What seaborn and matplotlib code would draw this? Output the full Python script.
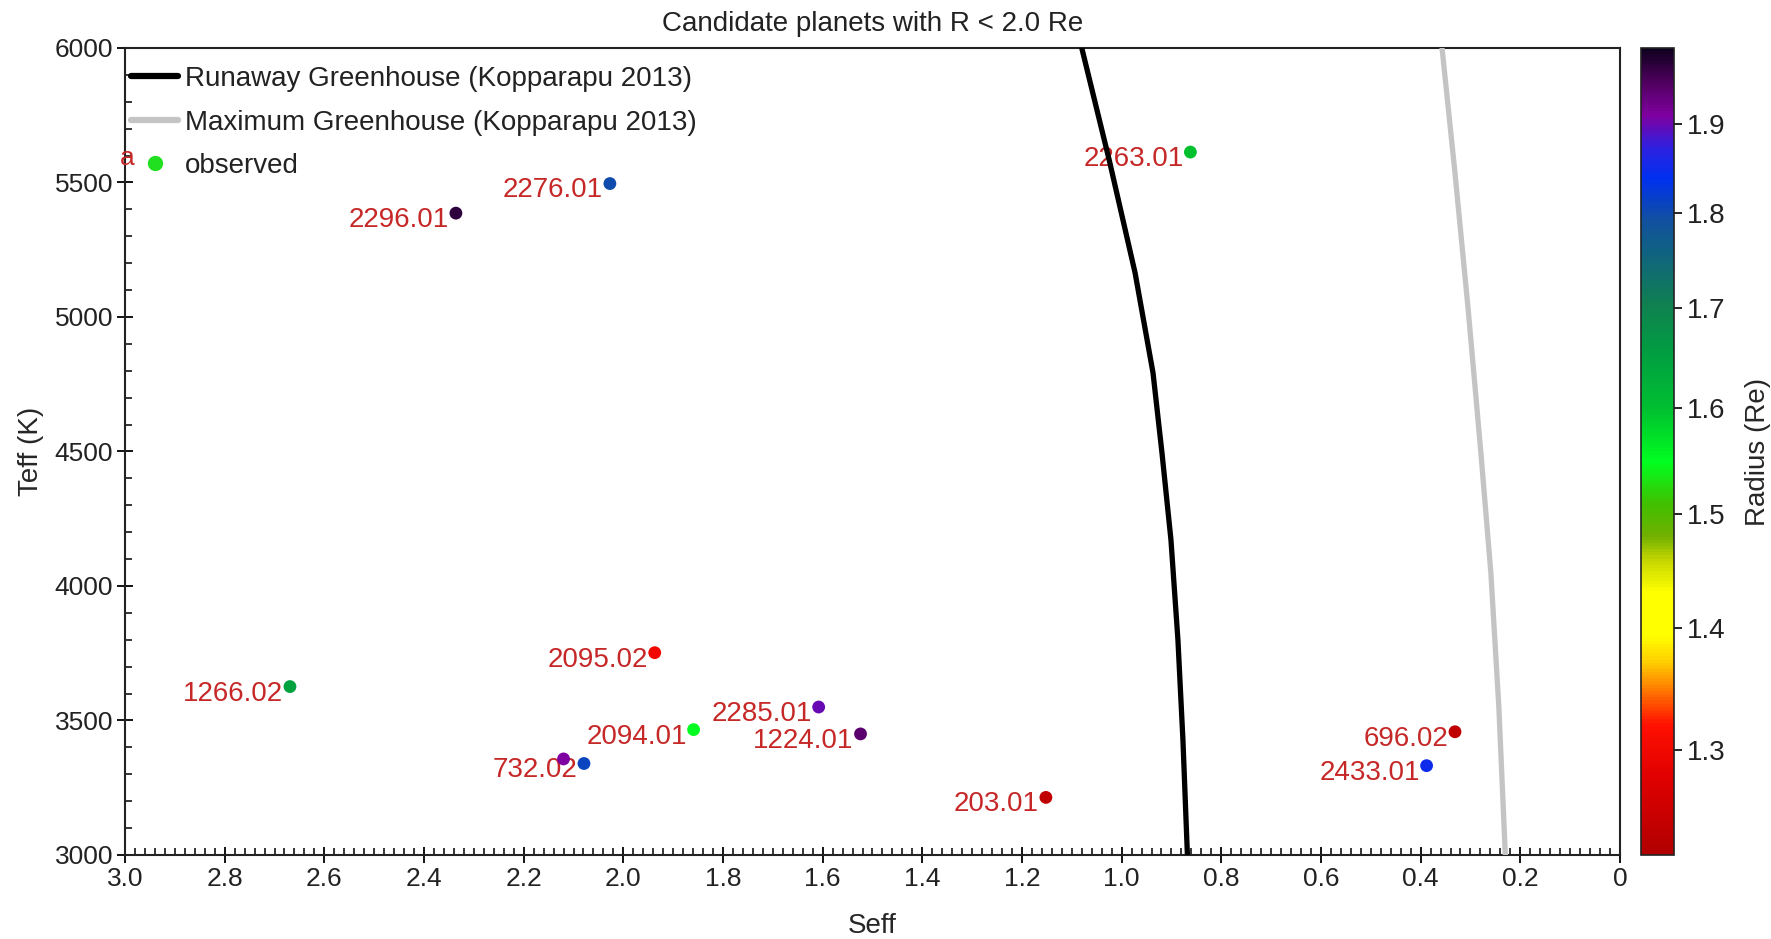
import numpy as np
import pandas as pd
import matplotlib
matplotlib.use("Agg")
import matplotlib.pyplot as plt
from matplotlib.colors import LinearSegmentedColormap, LogNorm
from matplotlib.cm import ScalarMappable
from matplotlib.lines import Line2D
from matplotlib.ticker import MultipleLocator, FixedLocator, FixedFormatter, NullLocator
import seaborn as sns

# Candidate planets (R < 2 Re): KOI name, stellar flux, stellar temperature, radius
koi_names = ["2296.01", "2276.01", "2263.01", "2095.02", "1266.02", "2285.01", "2094.01",
             "1224.01", "", "732.02", "203.01", "696.02", "2433.01"]
seff = [2.336, 2.027, 0.862, 1.937, 2.669, 1.608, 1.859, 1.524, 2.120, 2.079, 1.152, 0.331, 0.388]
teff = [5386, 5496, 5613, 3752, 3626, 3550, 3466, 3450, 3357, 3340, 3214, 3458, 3332]
radius = [1.97, 1.80, 1.60, 1.30, 1.65, 1.90, 1.55, 1.94, 1.91, 1.81, 1.24, 1.24, 1.85]

# Habitable-zone limits (Kopparapu 2013)
rg_teff = [6000, 5584, 5164, 4792, 4494, 4171, 3799, 3428, 3000]
rg_seff = [1.080, 1.025, 0.973, 0.937, 0.919, 0.901, 0.887, 0.877, 0.868]
mg_teff = [6000, 5535, 5037, 4494, 4048, 3550, 3000]
mg_seff = [0.357, 0.331, 0.305, 0.279, 0.259, 0.243, 0.230]

cbar_ticks = [1.3, 1.4, 1.5, 1.6, 1.7, 1.8, 1.9]

sns.set_theme(style="white")
plt.rcParams["font.family"] = ["Liberation Sans", "DejaVu Sans"]
plt.rcParams["text.color"] = "#222222"

cmap = LinearSegmentedColormap.from_list("radius", [
    (0.000, "#b00000"), (0.095, "#e00000"), (0.160, "#ff1000"), (0.206, "#ff8000"),
    (0.239, "#ffd000"), (0.271, "#ffff00"), (0.324, "#ffff00"), (0.363, "#c8d800"),
    (0.395, "#70b000"), (0.435, "#40c000"), (0.487, "#00ff20"), (0.552, "#00c030"),
    (0.618, "#00a040"), (0.683, "#108050"), (0.735, "#106878"), (0.788, "#1050a0"),
    (0.840, "#0030f0"), (0.879, "#3020e0"), (0.918, "#8000a0"), (0.958, "#500060"),
    (1.000, "#100020")])
norm = LogNorm(vmin=1.22, vmax=1.99)

df = pd.DataFrame({"Seff": seff, "Teff": teff, "Radius": radius, "KOI": koi_names})
rg = pd.DataFrame({"Seff": rg_seff, "Teff": rg_teff})
mg = pd.DataFrame({"Seff": mg_seff, "Teff": mg_teff})

fig = plt.figure(figsize=(17.71, 9.39), dpi=100)
ax = fig.add_axes([0.0706, 0.0895, 0.8441, 0.8594])
cax = fig.add_axes([0.9266, 0.0895, 0.0186, 0.8594])

label_red = "#c62828"
for name, x, y in zip(koi_names, seff, teff):
    if name:
        ax.annotate(name, (x, y), xytext=(-5, -5), textcoords="offset points",
                    ha="right", va="center", color=label_red, fontsize=20, zorder=2)

sns.lineplot(data=rg, x="Seff", y="Teff", sort=False, estimator=None, color="black",
             linewidth=3.8, ax=ax, zorder=3)
sns.lineplot(data=mg, x="Seff", y="Teff", sort=False, estimator=None, color="#c4c4c4",
             linewidth=3.8, ax=ax, zorder=3)
sns.scatterplot(data=df, x="Seff", y="Teff", hue="Radius", palette=cmap, hue_norm=norm,
                s=85, linewidth=0, legend=False, ax=ax, zorder=4)

ax.set_xlim(3.0, 0.0)
ax.set_ylim(3000, 6000)
ax.xaxis.set_major_locator(MultipleLocator(0.2))
ax.xaxis.set_minor_locator(MultipleLocator(0.02))
ax.yaxis.set_major_locator(MultipleLocator(500))
ax.yaxis.set_minor_locator(MultipleLocator(100))
ax.xaxis.set_major_formatter(plt.FuncFormatter(lambda v, p: "0" if abs(v) < 1e-9 else f"{v:.1f}"))
ax.tick_params(axis="both", which="major", direction="inout", length=11, width=1.3,
               color="black", labelsize=19, labelcolor="#222222", pad=3)
ax.tick_params(axis="both", which="minor", direction="in", length=5, width=1.1, color="black")
ax.tick_params(axis="x", which="both", bottom=True, top=False)
ax.tick_params(axis="y", which="both", left=True, right=False)
for side in ax.spines.values():
    side.set_color("#222222")
    side.set_linewidth(1.5)

ax.set_xlabel("Seff", fontsize=20, labelpad=16)
ax.set_ylabel("Teff (K)", fontsize=20, labelpad=8)
ax.set_title("Candidate planets with R < 2.0 Re", fontsize=20, pad=12)

# stray red glyph beside the legend entry
ax.text(0.0015, 0.864, "a", transform=ax.transAxes, color=label_red, fontsize=19,
        ha="center", va="center", zorder=5)

handles = [
    Line2D([], [], color="black", linewidth=4.5),
    Line2D([], [], color="#c4c4c4", linewidth=4.5),
    Line2D([], [], color="#20e020", marker="o", markersize=10, linestyle="none"),
]
labels = ["Runaway Greenhouse (Kopparapu 2013)", "Maximum Greenhouse (Kopparapu 2013)", "observed"]
leg = ax.legend(handles, labels, loc="upper left", bbox_to_anchor=(-0.008, 1.0), frameon=False,
                fontsize=20, handlelength=1.7, handletextpad=0.25, labelspacing=0.63,
                borderaxespad=0.2, borderpad=0.45)

sm = ScalarMappable(norm=norm, cmap=cmap)
cb = fig.colorbar(sm, cax=cax)
cb.ax.yaxis.set_major_locator(FixedLocator(cbar_ticks))
cb.ax.yaxis.set_major_formatter(FixedFormatter([f"{t:.1f}" for t in cbar_ticks]))
cb.ax.yaxis.set_minor_locator(NullLocator())
cb.ax.tick_params(labelsize=20, length=6, width=1.2, colors="black", labelcolor="#222222")
cb.outline.set_edgecolor("#222222")
cb.outline.set_linewidth(1.2)
cb.set_label("Radius (Re)", fontsize=20, labelpad=14)

fig.savefig("out.png", dpi=100)
